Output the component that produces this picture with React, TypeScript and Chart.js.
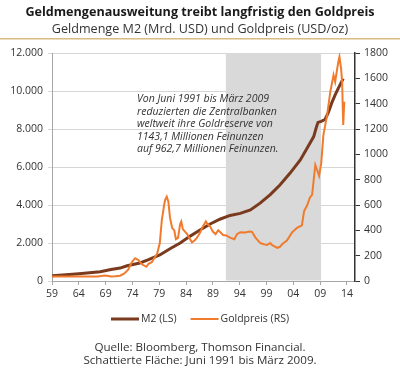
import React, { useEffect, useRef } from "react";
import { Chart, registerables } from "chart.js";

Chart.register(...registerables);

const titleText = "Geldmengenausweitung treibt langfristig den Goldpreis";
const subtitleText = "Geldmenge M2 (Mrd. USD) und Goldpreis (USD/oz)";
const noteLines = [
  "Von Juni 1991 bis März 2009",
  "reduzierten die Zentralbanken",
  "weltweit ihre Goldreserve von",
  "1143,1 Millionen Feinunzen",
  "auf 962,7 Millionen Feinunzen.",
];
const footerLines = [
  "Quelle: Bloomberg, Thomson Financial.",
  "Schattierte Fläche: Juni 1991 bis März 2009.",
];

const xTickYears = [1959, 1964, 1969, 1974, 1979, 1984, 1989, 1994, 1999, 2004, 2009, 2014];
const shadeStart = 1991.42;
const shadeEnd = 2009.17;

const m2Years = [1959, 1961, 1964, 1966, 1968, 1970, 1971.7, 1973, 1975.4, 1977, 1979.1, 1981, 1982.9, 1984.7, 1986.6, 1988.5, 1990.3, 1992.2, 1994.1, 1996.0, 1997.8, 1999.7, 2001.5, 2003.4, 2005.3, 2006.8, 2007.8, 2008.3, 2008.6, 2009.2, 2009.9, 2010.5, 2011.2, 2011.8, 2012.4, 2013.3];
const m2Values = [280, 320, 380, 430, 490, 600, 680, 800, 950, 1120, 1370, 1700, 2000, 2350, 2680, 3000, 3250, 3450, 3560, 3740, 4100, 4550, 5050, 5680, 6370, 7100, 7600, 8100, 8350, 8400, 8500, 8850, 9400, 9800, 10150, 10650];

const goldYears = [1959, 1967.5, 1968.2, 1968.8, 1969.3, 1970.0, 1970.8, 1971.7, 1972.5, 1973.2, 1973.5, 1973.9, 1974.5, 1975.1, 1975.5, 1975.9, 1976.6, 1977.0, 1977.6, 1978.0, 1978.6, 1979.1, 1979.5, 1979.7, 1979.9, 1980.1, 1980.4, 1980.7, 1981.0, 1981.4, 1981.8, 1982.1, 1982.5, 1982.9, 1983.1, 1983.4, 1983.8, 1984.2, 1984.6, 1985.1, 1985.6, 1986.0, 1986.6, 1987.0, 1987.7, 1988.0, 1988.5, 1989.0, 1989.5, 1990.0, 1990.3, 1990.9, 1991.5, 1992.2, 1993.0, 1993.5, 1994.1, 1995.0, 1995.9, 1996.3, 1996.9, 1997.8, 1998.5, 1999.1, 1999.7, 2000.0, 2001.0, 2001.5, 2001.9, 2002.8, 2003.8, 2004.7, 2005.6, 2006.0, 2006.6, 2007.1, 2007.5, 2008.1, 2008.4, 2008.8, 2009.2, 2009.6, 2010.3, 2010.9, 2011.5, 2011.8, 2012.2, 2012.4, 2012.6, 2012.9, 2013.1, 2013.3, 2013.5];
const goldPrices = [35, 35, 40, 43, 42, 36, 37, 42, 60, 90, 115, 150, 180, 165, 145, 128, 112, 135, 148, 175, 215, 300, 490, 540, 600, 640, 666, 626, 500, 420, 400, 330, 340, 450, 470, 410, 390, 370, 340, 305, 320, 340, 380, 420, 470, 450, 430, 390, 370, 400, 389, 363, 360, 342, 330, 370, 385, 383, 390, 388, 345, 300, 290, 285, 300, 285, 262, 270, 290, 320, 385, 420, 440, 550, 600, 660, 680, 916, 880, 830, 930, 1150, 1311, 1495, 1626, 1573, 1680, 1731, 1771, 1679, 1573, 1232, 1416];

const FONT = "'Open Sans', sans-serif";
const TEXT = "#333333";
const M2_COLOR = "#7a3a1e";
const GOLD_COLOR = "#f07b2c";

function formatDE(v: number): string {
  const s = String(Math.round(v));
  return s.replace(/\B(?=(\d{3})+(?!\d))/g, ".");
}

const decorPlugin = {
  id: "decor",
  beforeDatasetsDraw(chart: any) {
    const { ctx, chartArea, scales } = chart;
    const x1 = scales.x.getPixelForValue(shadeStart);
    const x2 = scales.x.getPixelForValue(shadeEnd);
    ctx.save();
    ctx.fillStyle = "#d9d9d9";
    ctx.fillRect(x1, chartArea.top, x2 - x1, chartArea.bottom - chartArea.top - 0.5);
    ctx.restore();
  },
  afterDraw(chart: any) {
    const { ctx } = chart;
    ctx.save();
    // title & subtitle
    ctx.textAlign = "center";
    ctx.textBaseline = "middle";
    ctx.fillStyle = "#1a1a1a";
    ctx.font = `bold 12.6px ${FONT}`;
    ctx.fillText(titleText, 200, 12.5);
    ctx.fillStyle = TEXT;
    ctx.font = `12.6px ${FONT}`;
    ctx.fillText(subtitleText, 200, 29);
    // separator
    ctx.strokeStyle = "#d6bc84";
    ctx.lineWidth = 1.5;
    ctx.beginPath();
    ctx.moveTo(0, 38.75);
    ctx.lineTo(400, 38.75);
    ctx.stroke();
    // note
    ctx.textAlign = "left";
    ctx.font = `italic 10.5px ${FONT}`;
    ctx.fillStyle = TEXT;
    noteLines.forEach((l, i) => ctx.fillText(l, 137, 99.5 + i * 12.4));
    // legend
    ctx.font = `10.5px ${FONT}`;
    const ds = chart.data.datasets;
    const sample = 28, gap = 2, spacing = 14;
    const widths = ds.map((d: any) => sample + gap + ctx.measureText(d.label).width);
    const total = widths.reduce((a: number, b: number) => a + b, 0) + spacing * (ds.length - 1);
    let x = 200 - total / 2;
    const ly = 319;
    ds.forEach((d: any, i: number) => {
      ctx.strokeStyle = d.borderColor;
      ctx.lineWidth = d.borderWidth;
      ctx.beginPath();
      ctx.moveTo(x, ly);
      ctx.lineTo(x + sample, ly);
      ctx.stroke();
      ctx.fillStyle = TEXT;
      ctx.fillText(d.label, x + sample + gap, ly);
      x += widths[i] + spacing;
    });
    // footer
    ctx.textAlign = "center";
    ctx.font = `11.6px ${FONT}`;
    ctx.fillText(footerLines[0], 200, 348);
    ctx.fillText(footerLines[1], 200, 361);
    ctx.restore();
  },
};

export default function App() {
  const ref = useRef<HTMLCanvasElement | null>(null);
  useEffect(() => {
    if (!ref.current) return;
    Chart.defaults.font.family = FONT;
    const chart = new Chart(ref.current, {
      type: "line",
      data: {
        datasets: [
          {
            label: "M2 (LS)",
            data: m2Years.map((x, i) => ({ x, y: m2Values[i] })),
            borderColor: M2_COLOR,
            borderWidth: 3,
            pointRadius: 0,
            yAxisID: "y",
            order: 1,
          },
          {
            label: "Goldpreis (RS)",
            data: goldYears.map((x, i) => ({ x, y: goldPrices[i] })),
            borderColor: GOLD_COLOR,
            borderWidth: 2,
            pointRadius: 0,
            yAxisID: "y1",
            order: 0,
          },
        ],
      },
      options: {
        animation: false,
        responsive: false,
        devicePixelRatio: 1,
        layout: { padding: { top: 53, left: 0, right: 0, bottom: 0 } },
        plugins: { legend: { display: false }, title: { display: false }, tooltip: { enabled: false } },
        scales: {
          x: {
            type: "linear",
            min: 1959,
            max: 2015.5,
            afterBuildTicks: (s: any) => {
              s.ticks = xTickYears.map((v) => ({ value: v }));
            },
            afterFit: (s: any) => {
              s.height = 89;
            },
            grid: { drawOnChartArea: false, drawTicks: true, tickLength: 4, color: "#a6a6a6" },
            border: { color: "#a6a6a6" },
            ticks: {
              autoSkip: false,
              maxRotation: 0,
              padding: 3,
              color: TEXT,
              font: { size: 10.5 },
              callback: (v: any) => String(Number(v) % 100).padStart(2, "0"),
            },
          },
          y: {
            type: "linear",
            position: "left",
            min: 0,
            max: 12000,
            afterFit: (s: any) => {
              s.width = 52;
            },
            grid: { color: "#d6d6d6", tickLength: 4 },
            border: { color: "#a6a6a6" },
            ticks: { stepSize: 2000, padding: 5, color: TEXT, font: { size: 10.5 }, callback: (v: any) => formatDE(Number(v)) },
          },
          y1: {
            type: "linear",
            position: "right",
            min: 0,
            max: 1800,
            afterFit: (s: any) => {
              s.width = 45;
            },
            grid: { drawOnChartArea: false, color: "#333333", tickLength: 5 },
            border: { color: "#333333", width: 1.5 },
            ticks: { stepSize: 200, padding: 4, color: TEXT, font: { size: 10.5 }, callback: (v: any) => String(Math.round(Number(v))) },
          },
        },
      },
      plugins: [decorPlugin],
    });
    return () => chart.destroy();
  }, []);
  return (
    <div style={{ position: "fixed", left: 0, top: 0, width: 400, height: 370, background: "#fff" }}>
      <canvas ref={ref} width={400} height={370} style={{ width: 400, height: 370 }} />
    </div>
  );
}
